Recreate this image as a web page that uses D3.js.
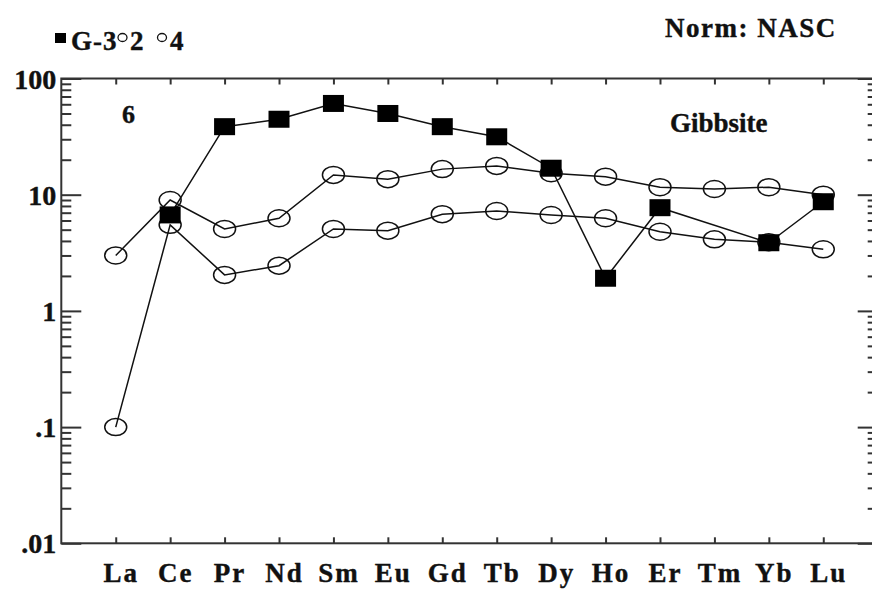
<!DOCTYPE html>
<html>
<head>
<meta charset="utf-8">
<script src="https://cdn.jsdelivr.net/npm/d3@7"></script>
<style>
  html, body { margin: 0; padding: 0; background: #fff; }
  svg { display: block; }
  text { font-family: "Liberation Serif", "Times New Roman", serif; font-weight: bold; fill: #111; stroke: #111; stroke-width: 0.4px; }
</style>
</head>
<body>
<svg id="chart" width="872" height="591"></svg>
<script>
// REE elements along the x axis
const elements = ["La", "Ce", "Pr", "Nd", "Sm", "Eu", "Gd", "Tb", "Dy", "Ho", "Er", "Tm", "Yb", "Lu"];

// NASC-normalised values (null = not determined)
const seriesG3 = [null, 6.7, 38.5, 44.6, 61, 50, 38.5, 31.5, 16.9, 1.91, 7.73, null, 3.86, 8.7];
const series2  = [3.0, 9.0, 5.07, 6.27, 14.8, 13.6, 16.6, 17.7, 15.3, 14.3, 11.6, 11.2, 11.6, 10.0];
const series4  = [0.1, 5.5, 2.04, 2.45, 5.07, 4.9, 6.8, 7.24, 6.69, 6.27, 4.8, 4.13, 3.9, 3.39];

// log axis decades and their labels
const yMajor = [0.01, 0.1, 1, 10, 100];
const yMajorLabels = [".01", ".1", "1", "10", "100"];

const svg = d3.select("#chart");

const plotLeft = 61.3, plotRight = 877.7, plotTop = 78.5, plotBottom = 543.3;

const x = d3.scaleLinear().domain([-1, elements.length]).range([plotLeft, plotRight]);
const y = d3.scaleLog().domain([0.01, 100]).range([plotBottom, plotTop]);

const idx = d3.range(elements.length);

// minor ticks 2..9 within each decade
const yMinor = [];
for (let d = 0; d < yMajor.length - 1; d++) {
  for (let m = 2; m <= 9; m++) yMinor.push(yMajor[d] * m);
}

const axisColor = "#333";

function styleAxis(g) {
  g.select(".domain").remove();
  g.selectAll("line").attr("stroke", axisColor).attr("stroke-width", 2);
}

// left axis: major ticks with labels, minor ticks
svg.append("g")
  .attr("transform", `translate(${plotLeft},0)`)
  .call(d3.axisLeft(y).tickValues(yMinor).tickSize(-10).tickSizeOuter(0).tickFormat(""))
  .call(styleAxis);

svg.append("g")
  .attr("transform", `translate(${plotLeft},0)`)
  .call(d3.axisLeft(y).tickValues(yMajor).tickSize(-20).tickSizeOuter(0).tickPadding(5)
        .tickFormat((d, i) => yMajorLabels[i]))
  .call(styleAxis)
  .call(g => g.selectAll("text")
    .attr("font-size", 28).attr("font-family", null).attr("fill", null)
    .attr("dy", "0.34em"));

// right axis: ticks only
svg.append("g")
  .attr("transform", `translate(${plotRight},0)`)
  .call(d3.axisRight(y).tickValues(yMinor).tickSize(-10).tickSizeOuter(0).tickFormat(""))
  .call(styleAxis);
svg.append("g")
  .attr("transform", `translate(${plotRight},0)`)
  .call(d3.axisRight(y).tickValues(yMajor).tickSize(-20).tickSizeOuter(0).tickFormat(""))
  .call(styleAxis);

// top axis: inward ticks at each element
svg.append("g")
  .attr("transform", `translate(0,${plotTop})`)
  .call(d3.axisTop(x).tickValues(idx).tickSize(-6).tickSizeOuter(0).tickFormat(""))
  .call(styleAxis);

// bottom axis: inward ticks and element labels
svg.append("g")
  .attr("transform", `translate(0,${plotBottom})`)
  .call(d3.axisBottom(x).tickValues(idx).tickSize(-6).tickSizeOuter(0).tickFormat(i => elements[i]))
  .call(styleAxis)
  .call(g => g.selectAll("text")
    .attr("font-size", 27).attr("font-family", null).attr("fill", null)
    .attr("letter-spacing", 2)
    .attr("y", 39).attr("dy", 0).attr("dx", 5));

// frame
svg.append("rect")
  .attr("x", plotLeft).attr("y", plotTop)
  .attr("width", plotRight - plotLeft).attr("height", plotBottom - plotTop)
  .attr("fill", "none").attr("stroke", axisColor).attr("stroke-width", 2);

// connecting lines (missing values are skipped, neighbours joined)
const line = d3.line().x(d => x(d.i)).y(d => y(d.v));
function pts(arr) { return arr.map((v, i) => ({ i, v })).filter(d => d.v != null); }

[series4, series2, seriesG3].forEach(s => {
  svg.append("path")
    .attr("d", line(pts(s)))
    .attr("fill", "none").attr("stroke", "#111").attr("stroke-width", 1.5);
});

// open ellipse markers
[series4, series2].forEach(s => {
  svg.append("g").selectAll("ellipse")
    .data(pts(s)).join("ellipse")
    .attr("cx", d => x(d.i)).attr("cy", d => y(d.v))
    .attr("rx", 11).attr("ry", 8.5)
    .attr("fill", "none").attr("stroke", "#111").attr("stroke-width", 1.5);
});

// filled square markers
svg.append("g").selectAll("rect")
  .data(pts(seriesG3)).join("rect")
  .attr("x", d => x(d.i) - 10.5).attr("y", d => y(d.v) - 8.5)
  .attr("width", 21).attr("height", 17)
  .attr("fill", "#000");

// legend
const legend = svg.append("g");
legend.append("rect").attr("x", 55).attr("y", 33).attr("width", 11).attr("height", 10).attr("fill", "#000");
legend.append("text").attr("x", 71).attr("y", 50).attr("font-size", 27).attr("letter-spacing", 1).text("G-3");
legend.append("ellipse").attr("cx", 122.5).attr("cy", 37.5).attr("rx", 4.5).attr("ry", 4)
  .attr("fill", "#fff").attr("stroke", "#111").attr("stroke-width", 1.3);
legend.append("text").attr("x", 130).attr("y", 50).attr("font-size", 27).text("2");
legend.append("ellipse").attr("cx", 162).attr("cy", 37.5).attr("rx", 4.5).attr("ry", 4)
  .attr("fill", "#fff").attr("stroke", "#111").attr("stroke-width", 1.3);
legend.append("text").attr("x", 170).attr("y", 50).attr("font-size", 27).text("4");

// annotations
svg.append("text").attr("x", 665).attr("y", 37).attr("font-size", 27).attr("letter-spacing", 1.5).text("Norm: NASC");
svg.append("text").attr("x", 670).attr("y", 132).attr("font-size", 27).text("Gibbsite");
svg.append("text").attr("x", 122).attr("y", 123).attr("font-size", 26).text("6");
</script>
</body>
</html>
